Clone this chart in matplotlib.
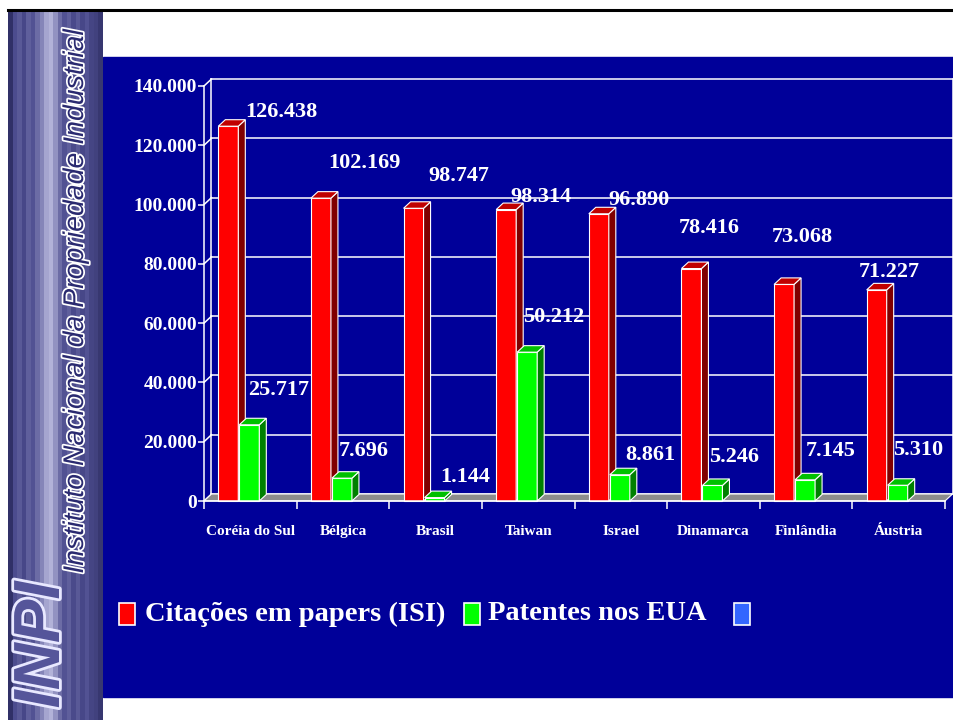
import numpy as np
import matplotlib
matplotlib.use('Agg')
import matplotlib.pyplot as plt
from matplotlib.patches import Rectangle, Polygon
from matplotlib.lines import Line2D
from matplotlib.ticker import FuncFormatter
import matplotlib.patheffects as pe

# data
countries = ['Coréia do Sul', 'Bélgica', 'Brasil', 'Taiwan', 'Israel',
             'Dinamarca', 'Finlândia', 'Áustria']
citacoes = [126438, 102169, 98747, 98314, 96890, 78416, 73068, 71227]
patentes = [25717, 7696, 1144, 50212, 8861, 5246, 7145, 5310]
series_names = ['Citações em papers (ISI)', 'Patentes nos EUA']
y_ticks = [0, 20000, 40000, 60000, 80000, 100000, 120000, 140000]

# label nudges (pixels, relative to category centre / bar top)
red_nudge = [(31, 14), (21, 35), (23, 32), (13, 13), (18, 14), (-4, 41), (-4, 47), (-9, 18)]
green_nudge = [(28, 35), (21, 27), (30, 21), (25, 35), (29, 20), (21, 28), (25, 29), (19, 35)]

W, H = 954, 720
SERIF = 'Liberation Serif'
BLUE = '#000099'

fig = plt.figure(figsize=(W / 100, H / 100), dpi=100, facecolor='white')

# blue slide panel
fig.add_artist(Rectangle((103 / W, 1 - 697 / H), (W - 103) / W, 640 / H,
                         transform=fig.transFigure, color=BLUE, zorder=0))
# top rule
fig.add_artist(Line2D([8 / W, 1], [1 - 10 / H, 1 - 10 / H], transform=fig.transFigure,
                      color='black', lw=2.2))

# left banner (striped gradient)
axb = fig.add_axes([8 / W, 0, 95 / W, 709 / H])
cols = np.array([-0.6, 0.0, 0.1, -0.1, 0.15, 0.05, 0.25, 0.45, 0.7, 0.8, 0.55,
                 0.25, 0.05, 0.15, -0.05, 0.1, -0.1, 0.05, -0.15, -0.25, -0.45])
base = np.array([0.30, 0.30, 0.56])
light = np.array([0.80, 0.80, 0.92])
dark = np.array([0.12, 0.12, 0.30])
img = np.array([[base + (light - base) * c if c >= 0 else base + (base - dark) * c for c in cols]])
axb.imshow(np.clip(img, 0, 1), aspect='auto', extent=(0, 1, 0, 1))
axb.set_axis_off()

fig.text(76 / W, 1 - 301 / H, 'Instituto Nacional da Propriedade Industrial',
         rotation=90, ha='center', va='center', fontsize=20.5, style='italic',
         family='Liberation Sans', color='#2a2a70',
         path_effects=[pe.Stroke(linewidth=2.5, foreground='white'), pe.Normal()])
fig.text(42 / W, 1 - 645 / H, 'INPI', rotation=90, ha='center', va='center',
         fontsize=47, style='italic', weight='bold', family='Liberation Sans',
         color='#55559a',
         path_effects=[pe.Stroke(linewidth=4, foreground='#e8e8ff'), pe.Normal()])

# main chart axes
x0, x1, ybot, ytop = 204, 945, 501, 86
ax = fig.add_axes([x0 / W, 1 - ybot / H, (x1 - x0) / W, (ybot - ytop) / H])
ax.set_facecolor('none')
n = len(countries)
ymax = 140000
ax.set_xlim(0, n)
ax.set_ylim(0, ymax)

px_x = n / (x1 - x0)
px_y = ymax / (ybot - ytop)
wdx, wdy = 7.5 * px_x, 7 * px_y   # wall depth
bdx, bdy = 7 * px_x, 6.5 * px_y   # bar depth

# back wall + grid
for yv in y_ticks:
    ax.plot([wdx, n + wdx], [yv + wdy, yv + wdy], color='white', lw=1.1, clip_on=False, zorder=1)
    ax.plot([0, wdx], [yv, yv + wdy], color='white', lw=1.1, clip_on=False, zorder=1)
ax.plot([wdx, wdx], [wdy, ymax + wdy], color='white', lw=1.1, clip_on=False, zorder=1)
ax.plot([n + wdx, n + wdx], [wdy, ymax + wdy], color='white', lw=1.1, clip_on=False, zorder=1)
ax.add_patch(Polygon([(0, 0), (n, 0), (n + wdx, wdy), (wdx, wdy)], closed=True,
                     facecolor='#8c8c8c', edgecolor='white', lw=0.8, clip_on=False, zorder=2))

bw = 20 * px_x
red_off = -22 * px_x
green_off = -1 * px_x


def bar3d(xc, val, front, side, top):
    ax.bar(xc, val, width=bw, color=front, edgecolor='white', lw=0.8, zorder=3, clip_on=False)
    xl, xr = xc - bw / 2, xc + bw / 2
    ax.add_patch(Polygon([(xr, 0), (xr + bdx, bdy), (xr + bdx, val + bdy), (xr, val)],
                         closed=True, facecolor=side, edgecolor='white', lw=0.8,
                         zorder=3, clip_on=False))
    ax.add_patch(Polygon([(xl, val), (xr, val), (xr + bdx, val + bdy), (xl + bdx, val + bdy)],
                         closed=True, facecolor=top, edgecolor='white', lw=0.8,
                         zorder=3, clip_on=False))


lab_font = dict(family=SERIF, weight='bold', color='white', fontsize=16,
                ha='center', va='center', zorder=5, annotation_clip=False)
for i in range(n):
    xc = i + 0.5
    bar3d(xc + red_off, citacoes[i], '#ff0000', '#800000', '#c00000')
    bar3d(xc + green_off, patentes[i], '#00ff00', '#008000', '#00c000')
    ax.annotate(f'{citacoes[i]:,}'.replace(',', '.'), (xc, citacoes[i]),
                xytext=red_nudge[i], textcoords='offset pixels', **lab_font)
    ax.annotate(f'{patentes[i]:,}'.replace(',', '.'), (xc, patentes[i]),
                xytext=green_nudge[i], textcoords='offset pixels', **lab_font)

# axes styling
for s in ['top', 'right']:
    ax.spines[s].set_visible(False)
for s in ['left', 'bottom']:
    ax.spines[s].set_color('white')
    ax.spines[s].set_linewidth(1.1)
    ax.spines[s].set_zorder(4)

ax.set_yticks(y_ticks)
ax.yaxis.set_major_formatter(FuncFormatter(lambda v, p: f'{int(v):,}'.replace(',', '.')))
ax.tick_params(axis='y', colors='white', length=4, width=1.1, pad=1)
for t in ax.get_yticklabels():
    t.set_fontfamily(SERIF)
    t.set_fontweight('bold')
    t.set_fontsize(14)

ax.set_xticks(np.arange(n + 1))
ax.set_xticklabels([])
ax.set_xticks(np.arange(n) + 0.5, minor=True)
ax.set_xticklabels(countries, minor=True)
ax.tick_params(axis='x', which='major', colors='white', length=6, width=1.1)
ax.tick_params(axis='x', which='minor', colors='white', length=0, pad=17)
for t in ax.get_xticklabels(minor=True):
    t.set_fontfamily(SERIF)
    t.set_fontweight('bold')
    t.set_fontsize(11)

# legend
leg_y = 1 - 614 / H
sq_w, sq_h = 16 / W, 22 / H
for xpx, col in [(119, '#ff0000'), (464, '#00ff00'), (734, '#3366ff')]:
    fig.add_artist(Rectangle((xpx / W, leg_y - sq_h / 2), sq_w, sq_h, transform=fig.transFigure,
                             facecolor=col, edgecolor='white', lw=1.2, zorder=3))
for xpx, name in [(145, series_names[0]), (488, series_names[1])]:
    fig.text(xpx / W, leg_y, name, ha='left', va='center', family=SERIF, weight='bold',
             fontsize=20.5, color='white')

fig.savefig('out.png', dpi=100, facecolor='white')
